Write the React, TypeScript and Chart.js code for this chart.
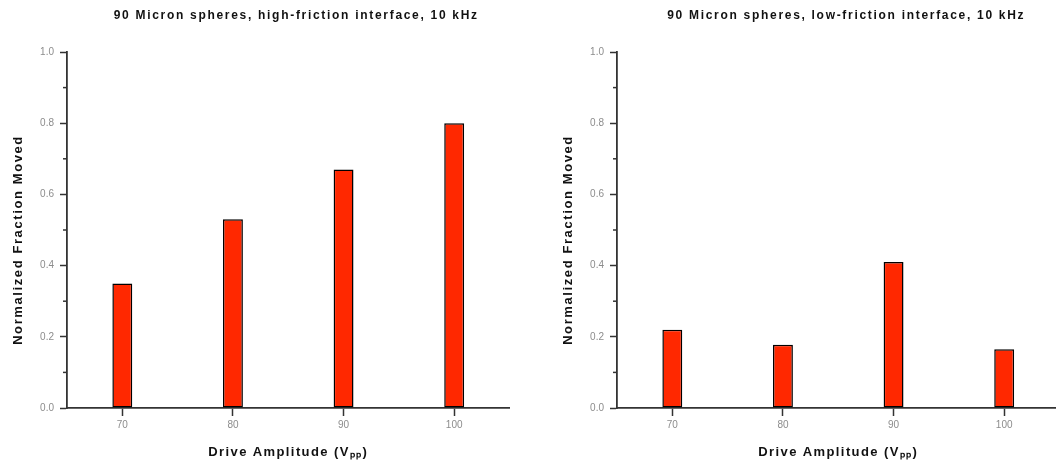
import React, { useEffect, useRef } from "react";
import { Chart, registerables } from "chart.js";

Chart.register(...registerables);

const categories = ["70", "80", "90", "100"];
const highFriction = [0.35, 0.53, 0.67, 0.8];
const lowFriction = [0.22, 0.178, 0.41, 0.165];
const leftTitle = "90 Micron spheres, high-friction interface, 10 kHz";
const rightTitle = "90 Micron spheres, low-friction interface, 10 kHz";
const xTitle = "Drive Amplitude (Vₚₚ)";
const yTitle = "Normalized Fraction Moved";

const FONT = "'Liberation Sans', Arial, sans-serif";
const AXIS = "#333333";

const decorPlugin = {
  id: "decor",
  afterDraw(chart: any) {
    const ctx = chart.ctx;
    const area = chart.chartArea;
    const opts = chart.options.plugins.decor;
    const yScale = chart.scales.y;
    ctx.save();
    // minor ticks
    ctx.strokeStyle = AXIS;
    ctx.lineWidth = 1.5;
    yScale.ticks.forEach((t: any, i: number) => {
      if (i % 2 === 1) {
        const y = yScale.getPixelForValue(t.value);
        ctx.beginPath();
        ctx.moveTo(area.left - 4, y);
        ctx.lineTo(area.left, y);
        ctx.stroke();
      }
    });
    const cx = (area.left + area.right) / 2;
    ctx.fillStyle = "#111";
    ctx.textAlign = "center";
    ctx.textBaseline = "middle";
    // title
    ctx.font = `bold 12px ${FONT}`;
    (ctx as any).letterSpacing = "1.7px";
    ctx.fillText(opts.title, cx + 8, 16);
    // x title
    ctx.font = `bold 13px ${FONT}`;
    (ctx as any).letterSpacing = "1.4px";
    ctx.fillText(xTitle, cx, 452);
    // y title
    ctx.translate(18, 240);
    ctx.rotate(-Math.PI / 2);
    ctx.font = `bold 13px ${FONT}`;
    (ctx as any).letterSpacing = "1.6px";
    ctx.fillText(yTitle, 0, 0);
    ctx.restore();
  },
};

function BarPanel({ title, values }: { title: string; values: number[] }) {
  const ref = useRef<HTMLCanvasElement>(null);
  useEffect(() => {
    if (!ref.current) return;
    const chart = new Chart(ref.current, {
      type: "bar",
      data: {
        labels: categories,
        datasets: [
          {
            data: values,
            backgroundColor: "#ff2800",
            borderColor: "#000000",
            borderWidth: 1.5,
            borderSkipped: false,
            categoryPercentage: 1,
            barPercentage: 0.18,
          },
        ],
      },
      options: {
        animation: false,
        responsive: false,
        maintainAspectRatio: false,
        layout: { padding: { left: 0, top: 52, right: 40.5, bottom: 0 } },
        plugins: {
          legend: { display: false },
          tooltip: { enabled: false },
          title: { display: false },
          decor: { title },
        } as any,
        scales: {
          x: {
            type: "category",
            offset: true,
            grid: {
              display: true,
              drawOnChartArea: false,
              tickLength: 8,
              tickColor: AXIS,
              tickWidth: 1.5,
              offset: false,
            },
            border: { display: true, color: AXIS, width: 1.8 },
            ticks: {
              color: "#8c8c8c",
              font: { family: FONT, size: 10 },
              padding: 3,
            },
            afterFit: (s: any) => {
              s.height = 56;
            },
          },
          y: {
            min: 0,
            max: 1,
            grid: {
              display: true,
              drawOnChartArea: false,
              tickLength: 7,
              tickWidth: 1.5,
              tickColor: (c: any) => (c.index % 2 === 0 ? AXIS : "rgba(0,0,0,0)"),
            },
            border: { display: true, color: AXIS, width: 1.8 },
            ticks: {
              stepSize: 0.1,
              color: "#8c8c8c",
              font: { family: FONT, size: 10 },
              padding: 6,
              callback: (v: any, i: number) => (i % 2 === 0 ? Number(v).toFixed(1) : ""),
            },
            afterFit: (s: any) => {
              s.width = 67;
            },
          },
        },
      } as any,
      plugins: [decorPlugin],
    });
    return () => chart.destroy();
  }, [title, values]);
  return <canvas ref={ref} width={550} height={464} style={{ width: 550, height: 464, display: "block" }} />;
}

export default function App() {
  return (
    <div
      style={{
        position: "fixed",
        left: 0,
        top: 0,
        width: 1056,
        height: 464,
        overflow: "hidden",
        background: "#ffffff",
      }}
    >
      <div style={{ position: "absolute", left: 0, top: 0 }}>
        <BarPanel title={leftTitle} values={highFriction} />
      </div>
      <div style={{ position: "absolute", left: 550, top: 0 }}>
        <BarPanel title={rightTitle} values={lowFriction} />
      </div>
    </div>
  );
}
